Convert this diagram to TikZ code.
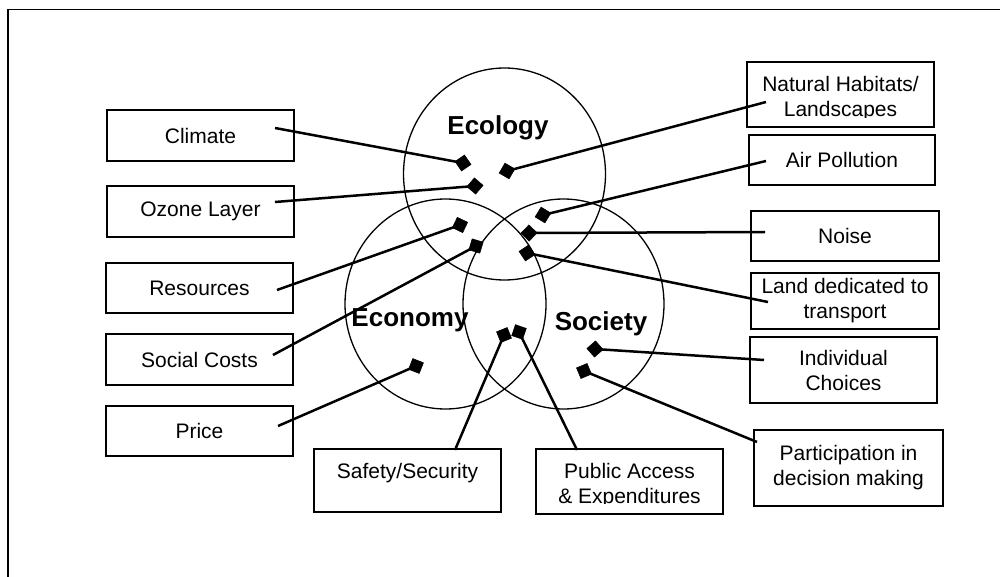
\documentclass[tikz,border=0pt]{standalone}
\usepackage{fontspec}
\setmainfont{Liberation Sans}
\begin{document}
\begin{tikzpicture}[x=1pt,y=-1pt,
  box/.style={draw,line width=1.6pt,inner sep=0pt,align=center,font=\fontsize{21}{25}\selectfont},
  txt/.style={inner sep=0pt,align=center,font=\fontsize{21}{25}\selectfont},
  circ/.style={draw,line width=1.3pt},
  big/.style={inner sep=0pt,font=\fontsize{26}{30}\selectfont\bfseries},
  conn/.style={line width=2.5pt},
  dmd/.style={fill=black,draw=black,line width=0.5pt,inner sep=0pt,minimum size=11.5pt,rotate=45,sloped,pos=1}]
\useasboundingbox (0,0) rectangle (1000,577);
\fill[white] (0,0) rectangle (1000,577);
\clip (0,0) rectangle (1000,577);
% frame
\draw[line width=1.6pt] (8,620) -- (8,9.5) -- (1040,9.5);
% circles
\draw[circ] (504.5,174) ellipse [x radius=101, y radius=106];
\draw[circ] (445.5,304) ellipse [x radius=100.5, y radius=105];
\draw[circ] (563.5,304) ellipse [x radius=100.5, y radius=105];
\node[big] (ecology) at (498,128) {Ecology};
\node[big] (economy) at (410,320) {Economy};
\node[big] (society) at (601,324) {Society};
% left boxes
\node[box,minimum width=187pt,minimum height=51pt] (climate) at (200.5,135.5) {Climate};
\node[box,minimum width=187pt,minimum height=51pt] (ozone) at (200.5,211.5) {Ozone Layer};
\node[box,minimum width=187pt,minimum height=50pt] (resources) at (199.5,288) {Resources};
\node[box,minimum width=187pt,minimum height=51pt] (social) at (199.5,359.5) {Social Costs};
\node[box,minimum width=187pt,minimum height=50pt] (price) at (199.5,431) {Price};
% bottom boxes
\node[box,minimum width=187pt,minimum height=63pt] (safety) at (407.5,480.5) {};
\node[txt] (safetyt) at (407.5,473) {Safety/Security};
\node[box,minimum width=187pt,minimum height=65pt] (public) at (629.5,481.5) {};
\begin{scope}
\clip (536,449) rectangle (723,503);
\node[txt] (publict) at (629.5,486) {Public Access\\\& Expenditures};
\end{scope}
% right boxes
\node[box,minimum width=187pt,minimum height=65pt] (natural) at (840.5,94.5) {};
\begin{scope}
\clip (747,62) rectangle (934,117.5);
\node[txt] (naturalt) at (840.5,99) {Natural Habitats/\\Landscapes};
\end{scope}
\node[box,minimum width=186pt,minimum height=50pt] (air) at (842,160) {Air Pollution};
\node[box,minimum width=188pt,minimum height=50pt] (noise) at (845,236) {Noise};
\node[box,minimum width=188pt,minimum height=56pt] (land) at (845,301) {Land dedicated to\\transport};
\node[box,minimum width=187pt,minimum height=66pt] (indiv) at (843.5,370) {Individual\\Choices};
\node[box,minimum width=189pt,minimum height=76pt] (partic) at (848.5,468) {Participation in\\decision making};
% connector ends
\coordinate (climate-s) at (275,128);   \coordinate (climate-d) at (463,163);
\coordinate (ozone-s) at (275,202);     \coordinate (ozone-d) at (475,186);
\coordinate (resources-s) at (277,290); \coordinate (resources-d) at (460,225);
\coordinate (social-s) at (273,355);    \coordinate (social-d) at (476,246);
\coordinate (price-s) at (278,426);     \coordinate (price-d) at (416,366);
\coordinate (safety-s) at (455,450);    \coordinate (safety-d) at (504,335);
\coordinate (public-s) at (577,450);    \coordinate (public-d) at (519,332);
\coordinate (natural-s) at (766,102);   \coordinate (natural-d) at (507,171);
\coordinate (air-s) at (766,161);       \coordinate (air-d) at (543,215);
\coordinate (noise-s) at (765,232);     \coordinate (noise-d) at (529,233);
\coordinate (land-s) at (768,302);      \coordinate (land-d) at (527,253);
\coordinate (indiv-s) at (764,360);     \coordinate (indiv-d) at (595,349);
\coordinate (partic-s) at (757,442);    \coordinate (partic-d) at (584,371);
\foreach \n in {climate,ozone,resources,social,price,safety,public,natural,air,noise,land,indiv,partic}
  \draw[conn] (\n-s) -- (\n-d) node[dmd] {};
\end{tikzpicture}
\end{document}
